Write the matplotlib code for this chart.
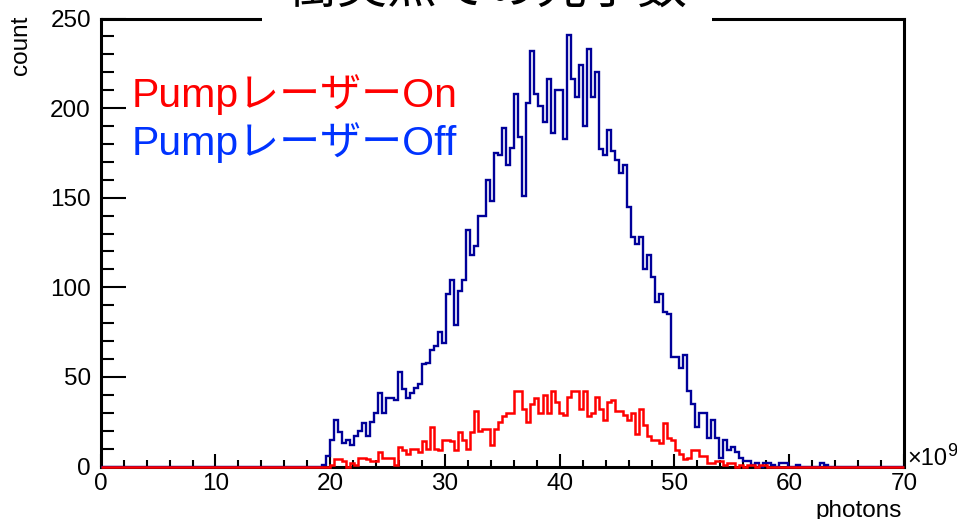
import numpy as np
import matplotlib
matplotlib.use("Agg")
import matplotlib.pyplot as plt
from matplotlib.patches import Rectangle
from matplotlib.ticker import MultipleLocator

plt.rcParams['font.family'] = ['Liberation Sans', 'Noto Sans CJK JP']

# ---------------- data ----------------
x_min, x_max, n_bins = 0.0, 70.0, 200   # photons (x1e9), 0.35 per bin

blue_first_bin = 55      # Pump laser Off
blue_counts = [
    1, 6, 15, 26, 19, 13, 15, 12, 17, 20,
    24, 17, 25, 30, 41, 30, 38, 38, 37, 53,
    43, 38, 41, 44, 46, 57, 58, 65, 67, 75,
    69, 96, 104, 79, 98, 104, 132, 118, 123, 140,
    140, 160, 148, 175, 174, 189, 168, 178, 208, 184,
    151, 203, 232, 208, 201, 192, 216, 186, 210, 210,
    183, 241, 216, 206, 224, 190, 233, 206, 220, 177,
    174, 188, 176, 171, 164, 168, 145, 128, 124, 128,
    110, 118, 106, 92, 96, 86, 85, 61, 61, 55,
    62, 42, 35, 22, 30, 30, 16, 26, 16, 5,
    15, 9, 11, 8, 5, 3, 3, 1, 2, 0,
    2, 2, 1, 0, 2, 2, 0, 0, 1, 0,
    0, 0, 0, 0, 2, 1,
]

red_first_bin = 57       # Pump laser On
red_counts = [
    1, 4, 4, 3, 0, 2, 1, 5, 5, 4,
    3, 3, 8, 5, 5, 5, 1, 11, 9, 7,
    10, 10, 8, 14, 10, 22, 10, 9, 15, 15,
    14, 9, 19, 15, 10, 19, 31, 20, 21, 21,
    12, 21, 25, 28, 30, 30, 42, 42, 32, 25,
    35, 38, 30, 40, 30, 42, 36, 30, 29, 39,
    42, 42, 32, 42, 28, 30, 39, 32, 26, 36,
    37, 31, 31, 29, 26, 30, 18, 32, 23, 17,
    15, 15, 13, 24, 16, 15, 9, 7, 4, 5,
    9, 9, 6, 6, 2, 2, 3, 3, 1, 2,
    2, 0, 1, 0, 1, 1, 0, 1, 1,
]

title_text = '衝突点での光子数'
label_on = 'PumpレーザーOn'
label_off = 'PumpレーザーOff'
x_label = 'photons'
y_label = 'count'
x_ticks = [0, 10, 20, 30, 40, 50, 60, 70]
y_ticks = [0, 50, 100, 150, 200, 250]


def full_hist(first, counts):
    h = np.zeros(n_bins)
    h[first:first + len(counts)] = counts
    return h


edges = np.linspace(x_min, x_max, n_bins + 1)
blue_hist = full_hist(blue_first_bin, blue_counts)
red_hist = full_hist(red_first_bin, red_counts)

# ---------------- figure ----------------
W, H = 957, 519
fig = plt.figure(figsize=(W / 100, H / 100), dpi=100)
fig.patch.set_facecolor('white')

ax_l, ax_r, ax_t, ax_b = 100.7, 904.0, 18.5, 466.5
ax = fig.add_axes([ax_l / W, 1 - ax_b / H, (ax_r - ax_l) / W, (ax_b - ax_t) / H])

ax.stairs(blue_hist, edges, color='#000099', linewidth=1.7, zorder=3, clip_on=False)
ax.stairs(red_hist, edges, color='#ff0000', linewidth=1.8, zorder=4, clip_on=False)

ax.set_xlim(x_min, x_max)
ax.set_ylim(0, 250)
ax.set_xticks(x_ticks)
ax.set_yticks(y_ticks)
ax.xaxis.set_minor_locator(MultipleLocator(2))
ax.yaxis.set_minor_locator(MultipleLocator(10))

for s in ax.spines.values():
    s.set_linewidth(2.2)
    s.set_color('black')
    s.set_zorder(2.5)

ax.tick_params(axis='both', which='both', direction='in', top=False, right=False,
               width=1.5, colors='black', labelsize=17.5)
ax.tick_params(axis='x', which='major', length=9.4, pad=5)
ax.tick_params(axis='x', which='minor', length=5.0)
ax.tick_params(axis='y', which='major', length=18, pad=7)
ax.tick_params(axis='y', which='minor', length=9.4)

# title box covering the top frame
fig.add_artist(Rectangle((262 / W, 1 - 25 / H), 450 / W, 30 / H,
                         transform=fig.transFigure, facecolor='white',
                         edgecolor='none', zorder=5))
fig.text(487 / W, 1 - 3 / H, title_text, ha='center', va='baseline',
         fontsize=36, family=['Noto Sans CJK JP'], zorder=6)

# legend texts
fig.text(132 / W, 1 - 107 / H, label_on, color='#ff0000', fontsize=29.5,
         ha='left', va='baseline', zorder=6)
fig.text(132 / W, 1 - 155 / H, label_off, color='#0033ff', fontsize=29.5,
         ha='left', va='baseline', zorder=6)

# axis labels
fig.text(902 / W, 1 - 500 / H, x_label, ha='right', va='top', fontsize=17.5)
fig.text(21 / W, 1 - 16 / H, y_label, ha='center', va='top', rotation=90, fontsize=17.5)

# exponent
fig.text(907 / W, 1 - 465 / H, '×10', ha='left', va='baseline', fontsize=17)
fig.text(947 / W, 1 - 456 / H, '9', ha='left', va='baseline', fontsize=13)

fig.savefig('out.png', dpi=100, facecolor='white')
